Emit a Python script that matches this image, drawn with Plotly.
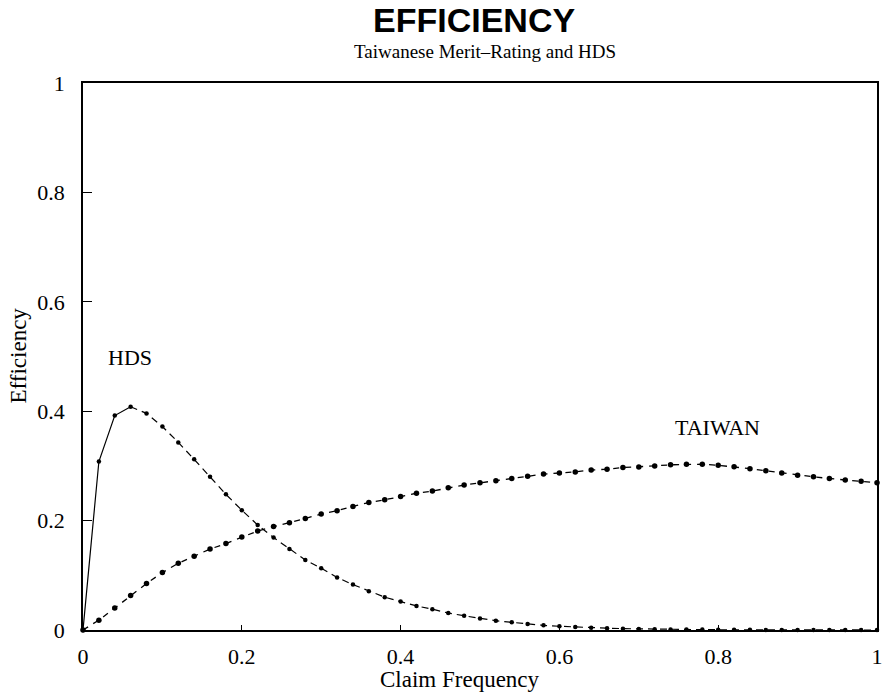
import plotly.graph_objects as go

claim_freq = [round(i * 0.02, 2) for i in range(51)]

hds_eff = [0, 0.308, 0.392, 0.408, 0.396, 0.372, 0.343, 0.312, 0.280, 0.248,
           0.219, 0.192, 0.169, 0.148, 0.128, 0.113, 0.096, 0.083, 0.071, 0.060,
           0.052, 0.044, 0.038, 0.031, 0.026, 0.021, 0.017, 0.014, 0.011, 0.0085,
           0.0068, 0.0053, 0.0042, 0.0033, 0.0025, 0.0019, 0.0015, 0.0011, 0.0009, 0.0007,
           0.0005, 0.0004, 0.0003, 0.0002, 0.0002, 0.0001, 0.0001, 0.0001, 0.0001, 0.0, 0.0]

taiwan_eff = [0, 0.018, 0.040, 0.063, 0.085, 0.105, 0.122, 0.135, 0.148, 0.158,
              0.170, 0.181, 0.189, 0.196, 0.204, 0.212, 0.218, 0.226, 0.233, 0.238,
              0.244, 0.250, 0.254, 0.260, 0.265, 0.269, 0.273, 0.277, 0.281, 0.285,
              0.287, 0.289, 0.2925, 0.294, 0.297, 0.298, 0.300, 0.302, 0.303, 0.303,
              0.301, 0.2985, 0.295, 0.291, 0.287, 0.283, 0.280, 0.277, 0.274, 0.272, 0.269]

tick_vals = [0, 0.2, 0.4, 0.6, 0.8, 1]
x_tick_text = ["0", "0.2", "0.4", "0.6", "0.8", "1"]
y_tick_text = ["0", "0.2", "0.4", "0.6", "0.8", "1"]

title_text = "EFFICIENCY"
subtitle_text = "Taiwanese Merit\u2013Rating and HDS"
x_title = "Claim Frequency"
y_title = "Efficiency"

SERIF = "Liberation Serif, Times New Roman, serif"
SANS = "Liberation Sans, Arial, sans-serif"

fig = go.Figure()

# HDS: solid for the first rise, dashed afterwards
fig.add_trace(go.Scatter(
    x=claim_freq[:4], y=hds_eff[:4], mode="lines",
    line=dict(color="black", width=1.2), showlegend=False, cliponaxis=False))
fig.add_trace(go.Scatter(
    x=claim_freq[3:], y=hds_eff[3:], mode="lines",
    line=dict(color="black", width=1.2, dash="7px,5px"), showlegend=False, cliponaxis=False))
fig.add_trace(go.Scatter(
    x=claim_freq, y=hds_eff, mode="markers",
    marker=dict(color="black", size=4.5, symbol="circle"), showlegend=False, cliponaxis=False))

# TAIWAN
fig.add_trace(go.Scatter(
    x=claim_freq, y=taiwan_eff, mode="lines+markers",
    line=dict(color="black", width=1.3, dash="6px,6px"),
    marker=dict(color="black", size=5.5, symbol="circle"),
    showlegend=False, cliponaxis=False))

fig.update_layout(
    width=890, height=693, autosize=False,
    margin=dict(l=83, r=7, t=83, b=63),
    paper_bgcolor="white", plot_bgcolor="white",
    font=dict(family=SERIF, size=22, color="black"),
    xaxis=dict(range=[0, 1], tickvals=tick_vals, ticktext=x_tick_text,
               showgrid=False, zeroline=False, showline=True, mirror=True,
               linecolor="black", linewidth=1.6, ticks="inside", ticklen=5,
               tickcolor="black", tickwidth=1, ticklabelstandoff=6,
               tickfont=dict(family=SERIF, size=22, color="black")),
    yaxis=dict(range=[0, 1], tickvals=tick_vals, ticktext=y_tick_text,
               showgrid=False, zeroline=False, showline=True, mirror=True,
               linecolor="black", linewidth=1.6, ticks="inside", ticklen=9,
               tickcolor="black", tickwidth=1, ticklabelstandoff=12,
               tickfont=dict(family=SERIF, size=22, color="black")),
    annotations=[
        dict(text=title_text, xref="paper", yref="paper", x=(477 - 83) / 800, y=(630 - 19.5) / 547,
             xanchor="center", yanchor="middle", showarrow=False,
             font=dict(family=SANS, size=34, color="black", weight="bold")),
        dict(text=subtitle_text, xref="paper", yref="paper", x=(488 - 83) / 800, y=(630 - 51.5) / 547,
             xanchor="center", yanchor="middle", showarrow=False,
             font=dict(family=SERIF, size=19, color="black")),
        dict(text=x_title, xref="paper", yref="paper", x=(463 - 83) / 800, y=(630 - 679) / 547,
             xanchor="center", yanchor="middle", showarrow=False,
             font=dict(family=SERIF, size=23, color="black")),
        dict(text=y_title, xref="paper", yref="paper", x=(18 - 83) / 800, y=(630 - 355) / 547,
             xanchor="center", yanchor="middle", showarrow=False, textangle=-90,
             font=dict(family=SERIF, size=23, color="black")),
        dict(text="HDS", xref="paper", yref="paper", x=(130 - 83) / 800, y=(630 - 357) / 547,
             xanchor="center", yanchor="middle", showarrow=False,
             font=dict(family=SERIF, size=22, color="black")),
        dict(text="TAIWAN", xref="paper", yref="paper", x=(722 - 83) / 800, y=(630 - 427) / 547,
             xanchor="center", yanchor="middle", showarrow=False,
             font=dict(family=SERIF, size=22, color="black")),
    ],
)

fig.write_html("out.html")
